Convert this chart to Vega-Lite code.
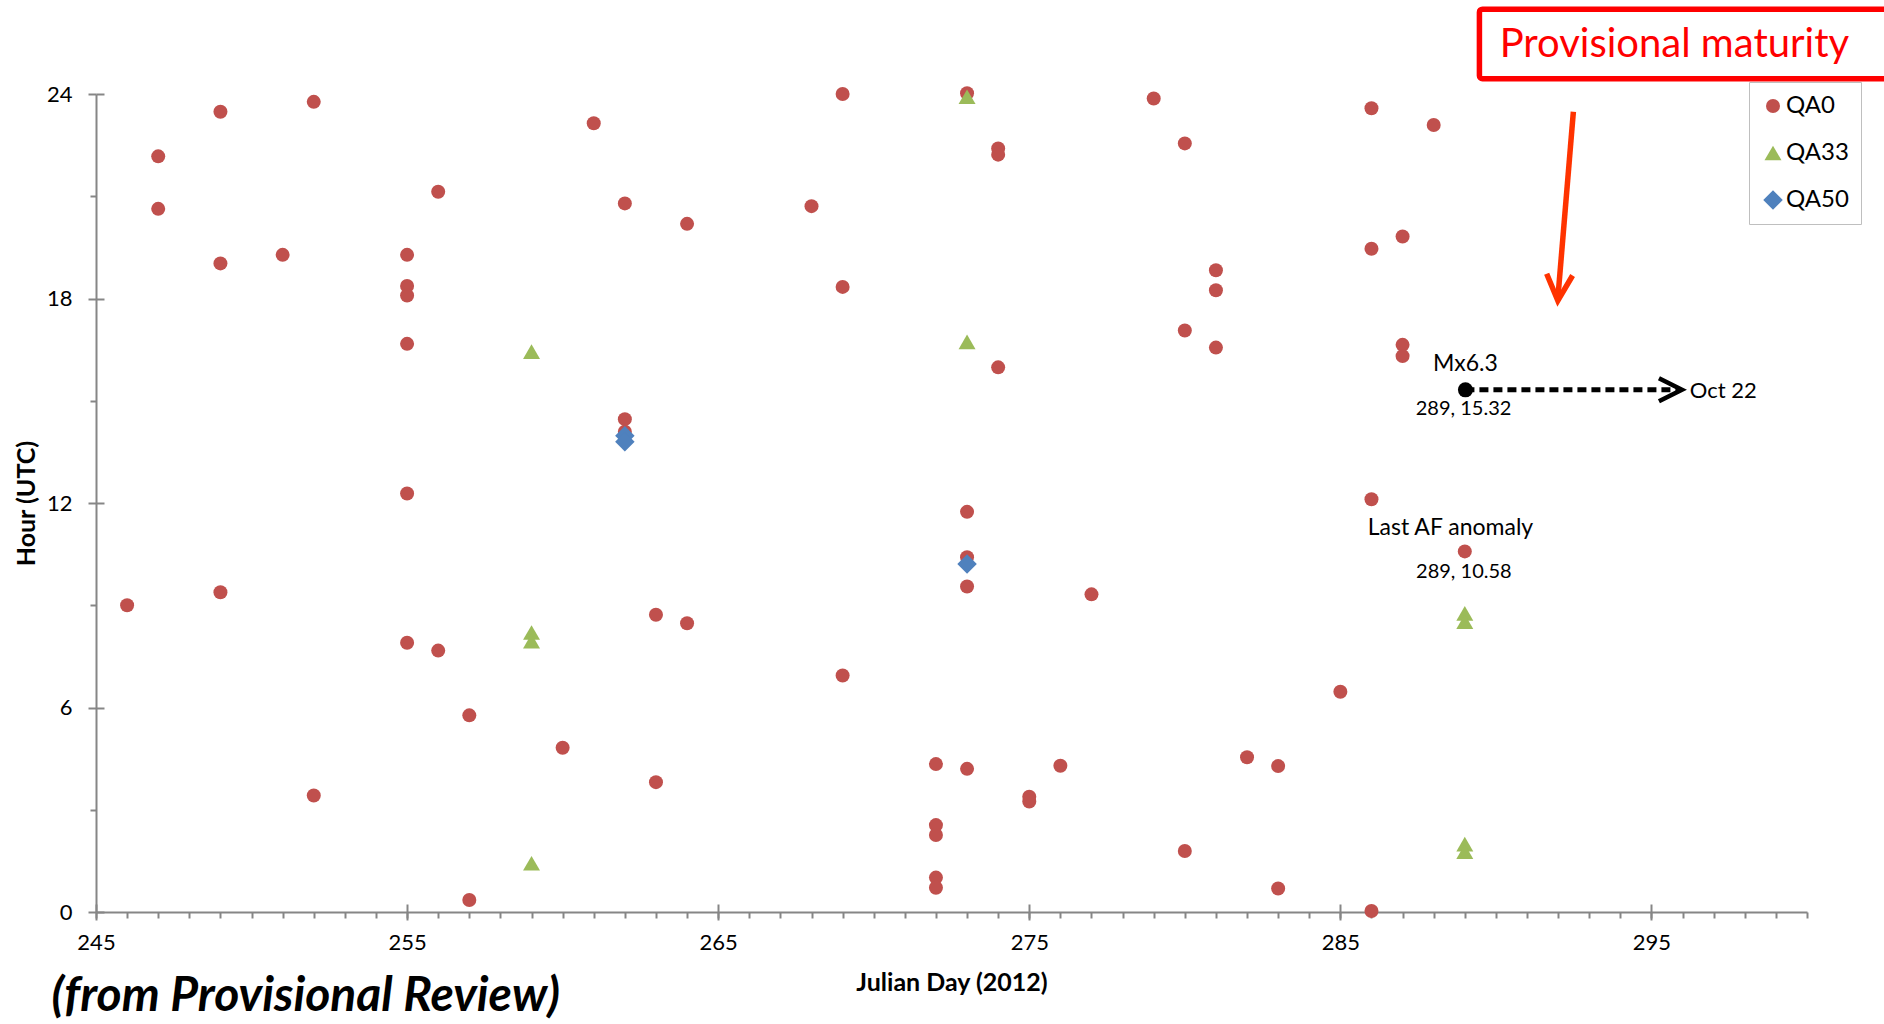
{
  "$schema": "https://vega.github.io/schema/vega-lite/v6.json",
  "width": 1711,
  "height": 818,
  "autosize": {"type": "none"},
  "padding": {"left": 96, "top": 94, "right": 77, "bottom": 112},
  "background": "white",
  "datasets": {
    "pts": [
      {"day": 246, "hour": 9.0, "QA": "QA0"},
      {"day": 247, "hour": 22.17, "QA": "QA0"},
      {"day": 247, "hour": 20.63, "QA": "QA0"},
      {"day": 249, "hour": 23.48, "QA": "QA0"},
      {"day": 249, "hour": 19.03, "QA": "QA0"},
      {"day": 249, "hour": 9.38, "QA": "QA0"},
      {"day": 251, "hour": 19.28, "QA": "QA0"},
      {"day": 252, "hour": 23.77, "QA": "QA0"},
      {"day": 252, "hour": 3.42, "QA": "QA0"},
      {"day": 255, "hour": 19.28, "QA": "QA0"},
      {"day": 255, "hour": 18.37, "QA": "QA0"},
      {"day": 255, "hour": 18.09, "QA": "QA0"},
      {"day": 255, "hour": 16.67, "QA": "QA0"},
      {"day": 255, "hour": 12.28, "QA": "QA0"},
      {"day": 255, "hour": 7.9, "QA": "QA0"},
      {"day": 256, "hour": 21.13, "QA": "QA0"},
      {"day": 256, "hour": 7.67, "QA": "QA0"},
      {"day": 257, "hour": 5.77, "QA": "QA0"},
      {"day": 257, "hour": 0.35, "QA": "QA0"},
      {"day": 260, "hour": 4.82, "QA": "QA0"},
      {"day": 261, "hour": 23.14, "QA": "QA0"},
      {"day": 262, "hour": 20.79, "QA": "QA0"},
      {"day": 262, "hour": 14.46, "QA": "QA0"},
      {"day": 262, "hour": 14.09, "QA": "QA0"},
      {"day": 263, "hour": 8.72, "QA": "QA0"},
      {"day": 263, "hour": 3.81, "QA": "QA0"},
      {"day": 264, "hour": 20.19, "QA": "QA0"},
      {"day": 264, "hour": 8.47, "QA": "QA0"},
      {"day": 268, "hour": 20.71, "QA": "QA0"},
      {"day": 269, "hour": 24.0, "QA": "QA0"},
      {"day": 269, "hour": 18.34, "QA": "QA0"},
      {"day": 269, "hour": 6.94, "QA": "QA0"},
      {"day": 272, "hour": 4.34, "QA": "QA0"},
      {"day": 272, "hour": 2.55, "QA": "QA0"},
      {"day": 272, "hour": 2.26, "QA": "QA0"},
      {"day": 272, "hour": 1.01, "QA": "QA0"},
      {"day": 272, "hour": 0.71, "QA": "QA0"},
      {"day": 273, "hour": 24.02, "QA": "QA0"},
      {"day": 273, "hour": 11.74, "QA": "QA0"},
      {"day": 273, "hour": 10.41, "QA": "QA0"},
      {"day": 273, "hour": 9.55, "QA": "QA0"},
      {"day": 273, "hour": 4.2, "QA": "QA0"},
      {"day": 274, "hour": 22.4, "QA": "QA0"},
      {"day": 274, "hour": 22.22, "QA": "QA0"},
      {"day": 274, "hour": 15.98, "QA": "QA0"},
      {"day": 275, "hour": 3.38, "QA": "QA0"},
      {"day": 275, "hour": 3.24, "QA": "QA0"},
      {"day": 276, "hour": 4.29, "QA": "QA0"},
      {"day": 277, "hour": 9.32, "QA": "QA0"},
      {"day": 279, "hour": 23.87, "QA": "QA0"},
      {"day": 280, "hour": 22.55, "QA": "QA0"},
      {"day": 280, "hour": 17.06, "QA": "QA0"},
      {"day": 280, "hour": 1.79, "QA": "QA0"},
      {"day": 281, "hour": 18.83, "QA": "QA0"},
      {"day": 281, "hour": 18.24, "QA": "QA0"},
      {"day": 281, "hour": 16.56, "QA": "QA0"},
      {"day": 282, "hour": 4.54, "QA": "QA0"},
      {"day": 283, "hour": 4.28, "QA": "QA0"},
      {"day": 283, "hour": 0.69, "QA": "QA0"},
      {"day": 285, "hour": 6.46, "QA": "QA0"},
      {"day": 286, "hour": 23.58, "QA": "QA0"},
      {"day": 286, "hour": 19.46, "QA": "QA0"},
      {"day": 286, "hour": 12.11, "QA": "QA0"},
      {"day": 286, "hour": 0.03, "QA": "QA0"},
      {"day": 287, "hour": 19.82, "QA": "QA0"},
      {"day": 287, "hour": 16.64, "QA": "QA0"},
      {"day": 287, "hour": 16.31, "QA": "QA0"},
      {"day": 288, "hour": 23.09, "QA": "QA0"},
      {"day": 289, "hour": 10.58, "QA": "QA0"},
      {"day": 259, "hour": 16.44, "QA": "QA33"},
      {"day": 259, "hour": 8.2, "QA": "QA33"},
      {"day": 259, "hour": 7.95, "QA": "QA33"},
      {"day": 259, "hour": 1.43, "QA": "QA33"},
      {"day": 273, "hour": 23.92, "QA": "QA33"},
      {"day": 273, "hour": 16.73, "QA": "QA33"},
      {"day": 289, "hour": 8.76, "QA": "QA33"},
      {"day": 289, "hour": 8.52, "QA": "QA33"},
      {"day": 289, "hour": 1.99, "QA": "QA33"},
      {"day": 289, "hour": 1.77, "QA": "QA33"},
      {"day": 262, "hour": 13.97, "QA": "QA50"},
      {"day": 262, "hour": 13.8, "QA": "QA50"},
      {"day": 273, "hour": 10.21, "QA": "QA50"}
    ],
    "coords": [
      {"x": 288.96, "y": 14.76, "label": "289, 15.32"},
      {"x": 288.97, "y": 9.97, "label": "289, 10.58"}
    ],
    "words": [
      {"x": 289.02, "y": 16.09, "label": "Mx6.3"},
      {"x": 288.54, "y": 11.27, "label": "Last AF anomaly"}
    ]
  },
  "layer": [
    {
      "data": {"values": [{"x": 289.47, "x2": 303, "y": 24.45, "y2": 26.49}]},
      "mark": {"type": "rect", "fillOpacity": 0, "stroke": "#FF0000", "strokeWidth": 5.5, "cornerRadius": 3},
      "encoding": {
        "x": {"field": "x", "type": "quantitative", "scale": {"domain": [245, 300], "nice": false, "zero": false}, "axis": null},
        "x2": {"field": "x2"},
        "y": {"field": "y", "type": "quantitative", "scale": {"domain": [0, 24], "nice": false, "zero": false}, "axis": null},
        "y2": {"field": "y2"}
      }
    },
    {
      "data": {"values": [{"x": 290.12, "y": 25.44, "label": "Provisional maturity"}]},
      "mark": {"type": "text", "font": "Lato", "fontSize": 40, "color": "#FF0000", "align": "left", "baseline": "middle"},
      "encoding": {
        "x": {"field": "x", "type": "quantitative", "scale": {"domain": [245, 300], "nice": false, "zero": false}, "axis": null},
        "y": {"field": "y", "type": "quantitative", "scale": {"domain": [0, 24], "nice": false, "zero": false}, "axis": null},
        "text": {"field": "label"}
      }
    },
    {
      "data": {"name": "pts"},
      "mark": {"type": "point", "filled": true, "opacity": 1, "strokeWidth": 0},
      "encoding": {
        "x": {"field": "day", "type": "quantitative", "scale": {"domain": [245, 300], "nice": false, "zero": false},
              "axis": {"orient": "bottom", "values": [245, 255, 265, 275, 285, 295], "tickSize": 8, "labelPadding": 12, "title": "Julian Day (2012)", "titlePadding": 17}},
        "y": {"field": "hour", "type": "quantitative", "scale": {"domain": [0, 24], "nice": false, "zero": false},
              "axis": {"orient": "left", "values": [0, 6, 12, 18, 24], "tickSize": 8, "labelPadding": 16, "title": "Hour (UTC)", "titlePadding": 7}},
        "color": {"field": "QA", "type": "nominal", "scale": {"domain": ["QA0", "QA33", "QA50"], "range": ["#C0504D", "#9BBB59", "#4F81BD"]},
                  "legend": {"title": null, "orient": "none", "legendX": 1653, "legendY": -12, "padding": 12, "rowPadding": 23, "strokeColor": "#BFBFBF", "fillColor": "white", "labelFont": "Lato", "labelFontSize": 24, "labelColor": "#000000", "labelOffset": 1, "symbolStrokeWidth": 0, "symbolOpacity": 1}},
        "shape": {"field": "QA", "type": "nominal", "scale": {"domain": ["QA0", "QA33", "QA50"], "range": ["circle", "triangle-up", "diamond"]},
                  "legend": {"title": null, "orient": "none", "legendX": 1653, "legendY": -12, "padding": 12, "rowPadding": 23, "strokeColor": "#BFBFBF", "fillColor": "white", "labelFont": "Lato", "labelFontSize": 24, "labelColor": "#000000", "labelOffset": 1, "symbolStrokeWidth": 0, "symbolOpacity": 1}},
        "size": {"field": "QA", "type": "nominal", "scale": {"domain": ["QA0", "QA33", "QA50"], "range": [196, 380, 300]},
                 "legend": {"title": null, "orient": "none", "legendX": 1653, "legendY": -12, "padding": 12, "rowPadding": 23, "strokeColor": "#BFBFBF", "fillColor": "white", "labelFont": "Lato", "labelFontSize": 24, "labelColor": "#000000", "labelOffset": 1, "symbolStrokeWidth": 0, "symbolOpacity": 1}}
      }
    },
    {
      "data": {"name": "pts"},
      "mark": {"type": "point", "opacity": 0},
      "encoding": {
        "x": {"field": "day", "type": "quantitative", "scale": {"domain": [245, 300], "nice": false, "zero": false},
              "axis": {"orient": "bottom", "values": [245,246,247,248,249,250,251,252,253,254,255,256,257,258,259,260,261,262,263,264,265,266,267,268,269,270,271,272,273,274,275,276,277,278,279,280,281,282,283,284,285,286,287,288,289,290,291,292,293,294,295,296,297,298,299,300], "tickSize": 6, "labels": false, "domain": false, "title": null}},
        "y": {"field": "hour", "type": "quantitative", "scale": {"domain": [0, 24], "nice": false, "zero": false},
              "axis": {"orient": "left", "values": [3, 9, 15, 21], "tickSize": 6, "labels": false, "domain": false, "title": null}}
      }
    },
    {
      "data": {"name": "pts"},
      "mark": {"type": "point", "opacity": 0},
      "encoding": {
        "x": {"field": "day", "type": "quantitative", "scale": {"domain": [245, 300], "nice": false, "zero": false},
              "axis": {"orient": "bottom", "values": [245, 255, 265, 275, 285, 295], "tickSize": -8, "labels": false, "domain": false, "title": null}},
        "y": {"field": "hour", "type": "quantitative", "scale": {"domain": [0, 24], "nice": false, "zero": false},
              "axis": {"orient": "left", "values": [0, 6, 12, 18, 24], "tickSize": -8, "labels": false, "domain": false, "title": null}}
      }
    },
    {
      "data": {"values": [{"x": 289.02, "y": 15.32}, {"x": 295.85, "y": 15.32}]},
      "mark": {"type": "line", "color": "#000000", "strokeWidth": 5, "strokeDash": [9, 5]},
      "encoding": {
        "x": {"field": "x", "type": "quantitative", "scale": {"domain": [245, 300], "nice": false, "zero": false}, "axis": null},
        "y": {"field": "y", "type": "quantitative", "scale": {"domain": [0, 24], "nice": false, "zero": false}, "axis": null}
      }
    },
    {
      "data": {"values": [{"x": 295.98, "y": 15.32}]},
      "mark": {"type": "point", "shape": "M-2,-1L0,0L-2,1", "filled": false, "color": "#000000", "strokeWidth": 4.5, "size": 529, "opacity": 1},
      "encoding": {
        "x": {"field": "x", "type": "quantitative", "scale": {"domain": [245, 300], "nice": false, "zero": false}, "axis": null},
        "y": {"field": "y", "type": "quantitative", "scale": {"domain": [0, 24], "nice": false, "zero": false}, "axis": null}
      }
    },
    {
      "data": {"values": [{"x": 289.02, "y": 15.32}]},
      "mark": {"type": "point", "shape": "circle", "filled": true, "color": "#000000", "size": 225, "opacity": 1, "strokeWidth": 0},
      "encoding": {
        "x": {"field": "x", "type": "quantitative", "scale": {"domain": [245, 300], "nice": false, "zero": false}, "axis": null},
        "y": {"field": "y", "type": "quantitative", "scale": {"domain": [0, 24], "nice": false, "zero": false}, "axis": null}
      }
    },
    {
      "data": {"values": [{"x": 292.49, "y": 23.48}, {"x": 292.0, "y": 18.1}]},
      "mark": {"type": "line", "color": "#FF3300", "strokeWidth": 5.5},
      "encoding": {
        "x": {"field": "x", "type": "quantitative", "scale": {"domain": [245, 300], "nice": false, "zero": false}, "axis": null},
        "y": {"field": "y", "type": "quantitative", "scale": {"domain": [0, 24], "nice": false, "zero": false}, "axis": null}
      }
    },
    {
      "data": {"values": [{"x": 291.99, "y": 17.94}]},
      "mark": {"type": "point", "shape": "M-1,-2L0,0L1,-2", "filled": false, "color": "#FF3300", "strokeWidth": 5.5, "size": 676, "angle": 4, "opacity": 1},
      "encoding": {
        "x": {"field": "x", "type": "quantitative", "scale": {"domain": [245, 300], "nice": false, "zero": false}, "axis": null},
        "y": {"field": "y", "type": "quantitative", "scale": {"domain": [0, 24], "nice": false, "zero": false}, "axis": null}
      }
    },
    {
      "data": {"name": "coords"},
      "mark": {"type": "text", "font": "Lato", "fontSize": 20, "color": "#000000", "align": "center", "baseline": "middle"},
      "encoding": {
        "x": {"field": "x", "type": "quantitative", "scale": {"domain": [245, 300], "nice": false, "zero": false}, "axis": null},
        "y": {"field": "y", "type": "quantitative", "scale": {"domain": [0, 24], "nice": false, "zero": false}, "axis": null},
        "text": {"field": "label"}
      }
    },
    {
      "data": {"name": "words"},
      "mark": {"type": "text", "font": "Lato", "fontSize": 23, "color": "#000000", "align": "center", "baseline": "middle"},
      "encoding": {
        "x": {"field": "x", "type": "quantitative", "scale": {"domain": [245, 300], "nice": false, "zero": false}, "axis": null},
        "y": {"field": "y", "type": "quantitative", "scale": {"domain": [0, 24], "nice": false, "zero": false}, "axis": null},
        "text": {"field": "label"}
      }
    },
    {
      "data": {"values": [{"x": 296.23, "y": 15.28, "label": "Oct 22"}]},
      "mark": {"type": "text", "font": "Lato", "fontSize": 22, "color": "#000000", "align": "left", "baseline": "middle"},
      "encoding": {
        "x": {"field": "x", "type": "quantitative", "scale": {"domain": [245, 300], "nice": false, "zero": false}, "axis": null},
        "y": {"field": "y", "type": "quantitative", "scale": {"domain": [0, 24], "nice": false, "zero": false}, "axis": null},
        "text": {"field": "label"}
      }
    },
    {
      "data": {"values": [{"x": 243.57, "y": -2.49, "label": "(from Provisional Review)"}]},
      "mark": {"type": "text", "font": "Lato", "fontSize": 48, "fontWeight": "bold", "fontStyle": "italic", "color": "#000000", "align": "left", "baseline": "middle"},
      "encoding": {
        "x": {"field": "x", "type": "quantitative", "scale": {"domain": [245, 300], "nice": false, "zero": false}, "axis": null},
        "y": {"field": "y", "type": "quantitative", "scale": {"domain": [0, 24], "nice": false, "zero": false}, "axis": null},
        "text": {"field": "label"}
      }
    }
  ],
  "resolve": {"axis": {"x": "independent", "y": "independent"}},
  "config": {
    "font": "Lato",
    "view": {"stroke": null},
    "axis": {
      "grid": false,
      "domainColor": "#868686",
      "tickColor": "#868686",
      "domainWidth": 2,
      "tickWidth": 2,
      "labelFont": "Lato",
      "labelFontSize": 22,
      "labelColor": "#000000",
      "labelFlush": false,
      "labelOverlap": false,
      "titleFont": "Lato",
      "titleFontSize": 25,
      "titleFontWeight": "bold",
      "titleColor": "#000000"
    }
  }
}
